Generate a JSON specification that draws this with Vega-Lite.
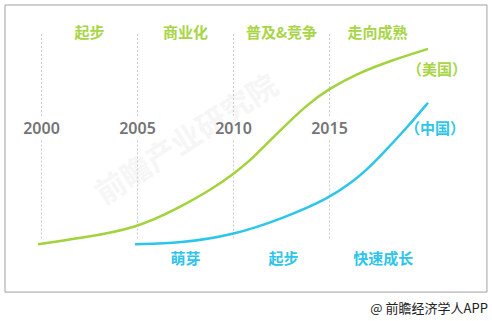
{
  "$schema": "https://vega.github.io/schema/vega-lite/v6.json",
  "width": 492,
  "height": 321,
  "padding": 0,
  "autosize": {"type": "fit", "contains": "padding"},
  "background": "white",
  "config": {"view": {"stroke": null}},
  "datasets": {
    "curves": [
      {"series": "美国", "year": 1999.82, "level": 0},
      {"series": "美国", "year": 2002.01, "level": 3},
      {"series": "美国", "year": 2004.97, "level": 8},
      {"series": "美国", "year": 2007.21, "level": 18.5},
      {"series": "美国", "year": 2008.93, "level": 28},
      {"series": "美国", "year": 2009.97, "level": 35},
      {"series": "美国", "year": 2010.86, "level": 42},
      {"series": "美国", "year": 2011.38, "level": 47},
      {"series": "美国", "year": 2012.58, "level": 58.5},
      {"series": "美国", "year": 2013.83, "level": 70},
      {"series": "美国", "year": 2014.97, "level": 78},
      {"series": "美国", "year": 2016.43, "level": 85.5},
      {"series": "美国", "year": 2018.15, "level": 92},
      {"series": "美国", "year": 2020.13, "level": 98},
      {"series": "中国", "year": 2004.87, "level": 0},
      {"series": "中国", "year": 2007.21, "level": 0.5},
      {"series": "中国", "year": 2009.97, "level": 4.5},
      {"series": "中国", "year": 2012.58, "level": 13},
      {"series": "中国", "year": 2014.97, "level": 23},
      {"series": "中国", "year": 2016.22, "level": 31.5},
      {"series": "中国", "year": 2016.95, "level": 37.5},
      {"series": "中国", "year": 2017.63, "level": 44},
      {"series": "中国", "year": 2019.04, "level": 58.5},
      {"series": "中国", "year": 2020.13, "level": 71}
    ],
    "rules": [
      {"year": 2000, "top": 105.5, "bottom": 64.5},
      {"year": 2000, "top": 52, "bottom": 3},
      {"year": 2005, "top": 105.5, "bottom": 64.5},
      {"year": 2005, "top": 52, "bottom": 3},
      {"year": 2010, "top": 105.5, "bottom": 64.5},
      {"year": 2010, "top": 52, "bottom": 3},
      {"year": 2015, "top": 105.5, "bottom": 64.5},
      {"year": 2015, "top": 52, "bottom": 2}
    ],
    "frame": [{"x1": 1998.1, "x2": 2023.2, "y1": 120, "y2": -24}],
    "labels": [
      {"group": "usstage", "text": "起步", "year": 2002.5, "level": 106},
      {"group": "usstage", "text": "商业化", "year": 2007.5, "level": 106},
      {"group": "usstage", "text": "普及&竞争", "year": 2012.5, "level": 106},
      {"group": "usstage", "text": "走向成熟", "year": 2017.5, "level": 106},
      {"group": "usstage", "text": "（美国）", "year": 2020.6, "level": 87.5},
      {"group": "year", "text": "2000", "year": 2000, "level": 58},
      {"group": "year", "text": "2005", "year": 2005, "level": 58},
      {"group": "year", "text": "2010", "year": 2010, "level": 58},
      {"group": "year", "text": "2015", "year": 2015, "level": 58},
      {"group": "cnstage", "text": "萌芽", "year": 2007.5, "level": -7.5},
      {"group": "cnstage", "text": "起步", "year": 2012.6, "level": -7.5},
      {"group": "cnstage", "text": "快速成长", "year": 2017.8, "level": -7.5},
      {"group": "cnstage", "text": "（中国）", "year": 2020.5, "level": 58}
    ]
  },
  "layer": [
    {
      "data": {"name": "frame"},
      "mark": {"type": "rect", "fill": null, "stroke": "#a0a0a0", "strokeWidth": 1},
      "encoding": {
        "x": {"field": "x1", "type": "quantitative", "scale": {"domain": [1997.839, 2023.464], "nice": false, "zero": false}, "axis": null},
        "x2": {"field": "x2"},
        "y": {"field": "y1", "type": "quantitative", "scale": {"domain": [-38.5, 122.5], "nice": false, "zero": false}, "axis": null},
        "y2": {"field": "y2"}
      }
    },
    {
      "data": {"values": [{"text": "前瞻产业研究院", "year": 2007.6, "level": 52}]},
      "mark": {"type": "text", "angle": -33, "fontSize": 30, "font": "Noto Sans CJK SC", "fontWeight": "bold", "color": "#f6f6f6"},
      "encoding": {
        "x": {"field": "year", "type": "quantitative"},
        "y": {"field": "level", "type": "quantitative"},
        "text": {"field": "text"}
      }
    },
    {
      "data": {"name": "rules"},
      "mark": {"type": "rule", "color": "#cfcfcf", "strokeWidth": 1.2, "strokeDash": [2, 2]},
      "encoding": {
        "x": {"field": "year", "type": "quantitative"},
        "y": {"field": "top", "type": "quantitative"},
        "y2": {"field": "bottom"}
      }
    },
    {
      "data": {"name": "curves"},
      "mark": {"type": "line", "interpolate": "basis", "strokeWidth": 2.5},
      "encoding": {
        "x": {"field": "year", "type": "quantitative"},
        "y": {"field": "level", "type": "quantitative"},
        "detail": {"field": "series"},
        "color": {"field": "series", "type": "nominal", "scale": {"domain": ["美国", "中国"], "range": ["#a2d23c", "#2cc6ea"]}, "legend": null}
      }
    },
    {
      "data": {"name": "labels"},
      "transform": [{"filter": "datum.group === 'usstage'"}],
      "mark": {"type": "text", "fontSize": 15, "font": "Noto Sans CJK SC", "fontWeight": "bold", "color": "#a8d545"},
      "encoding": {
        "x": {"field": "year", "type": "quantitative"},
        "y": {"field": "level", "type": "quantitative"},
        "text": {"field": "text"}
      }
    },
    {
      "data": {"name": "labels"},
      "transform": [{"filter": "datum.group === 'cnstage'"}],
      "mark": {"type": "text", "fontSize": 15, "font": "Noto Sans CJK SC", "fontWeight": "bold", "color": "#2ec5ea"},
      "encoding": {
        "x": {"field": "year", "type": "quantitative"},
        "y": {"field": "level", "type": "quantitative"},
        "text": {"field": "text"}
      }
    },
    {
      "data": {"name": "labels"},
      "transform": [{"filter": "datum.group === 'year'"}],
      "mark": {"type": "text", "fontSize": 16, "font": "Noto Sans", "fontWeight": 600, "color": "#757575"},
      "encoding": {
        "x": {"field": "year", "type": "quantitative"},
        "y": {"field": "level", "type": "quantitative"},
        "text": {"field": "text"}
      }
    },
    {
      "data": {"values": [{"text": "@ 前瞻经济学人APP", "year": 2023.25, "level": -32.5}]},
      "mark": {"type": "text", "align": "right", "fontSize": 13, "font": "Noto Sans CJK SC", "color": "#222222"},
      "encoding": {
        "x": {"field": "year", "type": "quantitative"},
        "y": {"field": "level", "type": "quantitative"},
        "text": {"field": "text"}
      }
    }
  ]
}
